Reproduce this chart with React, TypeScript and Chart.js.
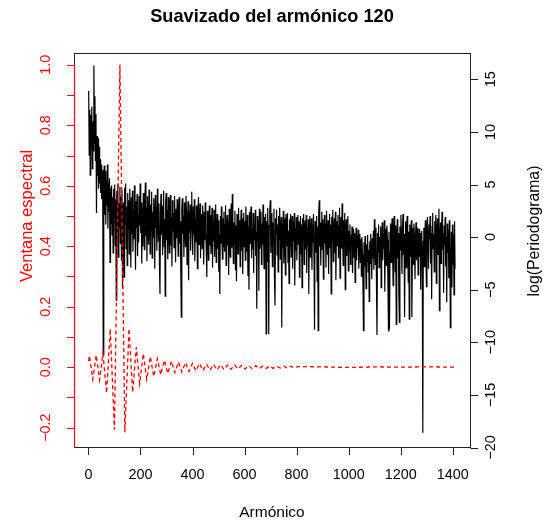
import React, { useEffect, useRef } from "react";
import { Chart, registerables } from "chart.js";

Chart.register(...registerables);

const TITLE = "Suavizado del armónico 120";
const X_LABEL = "Armónico";
const LEFT_LABEL = "Ventana espectral";
const RIGHT_LABEL = "log(Periodograma)";

const X_TICKS = [0, 200, 400, 600, 800, 1000, 1200, 1400];
const LEFT_TICKS = [-0.2, -0.1, 0, 0.1, 0.2, 0.3, 0.4, 0.5, 0.6, 0.7, 0.8, 0.9, 1.0];
const LEFT_TICK_LABELS = ["−0.2", "", "0.0", "", "0.2", "", "0.4", "", "0.6", "", "0.8", "", "1.0"];
const RIGHT_TICKS = [-20, -15, -10, -5, 0, 5, 10, 15];
const RIGHT_TICK_LABELS = ["−20", "−15", "−10", "−5", "0", "5", "10", "15"];

// harmonics of the log-periodogram: first harmonic and spacing
const HARMONIC_START = 1;
const HARMONIC_STEP = 2;

const LOG_PERIODOGRAM = [
  13.9, 7.8, 12.1, 5.9, 11.6, 8.4, 12.4, 6.5, 11.0, 8.2, 16.3, 8.9, 13.4, 7.3, 11.7, 2.3, 9.6, 5.8, 9.4, 4.6,
  8.6, 5.1, 7.4, 4.2, 6.9, 3.6, 6.4, 4.4, -11.2, 5.8, 6.8, 2.1, 6.3, 1.2, 5.4, 3.0, 6.9, 0.8, 5.1, 2.4,
  5.6, -2.4, 4.7, 1.3, 4.9, 0.2, 3.8, -1.5, 4.6, 1.9, 5.0, -0.8, 3.6, -6.0, 4.4, 0.5, 5.1, -1.9, 3.2, 1.0,
  4.8, -0.6, 3.9, -2.2, 4.5, -4.9, 3.3, 0.4, -3.8, 4.7, 1.2, 5.1, -1.1, 2.9, -2.7, 4.2, 0.8, 3.5, -1.6, 4.6,
  1.9, -2.9, 3.8, 0.3, 4.4, -1.4, 2.6, -0.2, 4.9, 1.5, -3.1, 3.4, 0.9, 4.1, -1.8, 2.2, -0.5, 3.9, 1.1, 5.1,
  0.4, 3.3, -2.5, 2.7, -0.9, 4.2, 1.6, -1.2, 3.6, 5.2, 0.1, 2.8, -2.3, 3.9, 1.3, -0.7, 4.5, 2.0, -1.6, 3.1,
  0.6, 4.3, -2.0, 2.4, 0.0, 3.7, 1.8, -3.0, 4.0, 0.9, 2.9, -1.3, 4.6, 1.4, -0.4, 3.2, -2.6, -5.4, 2.5, 4.1,
  0.2, 3.0, -1.7, 2.1, 4.4, -0.9, 1.7, -5.6, 3.4, 4.2, -0.3, 2.6, -2.1, 3.8, 0.7, -1.5, 2.9, 4.0, -0.8, 1.9,
  -2.8, 3.5, 0.5, 2.3, -1.0, 3.9, 1.2, -2.4, 2.7, -0.1, 3.6, 0.9, -1.8, 2.4, 3.8, -0.6, 1.5, -3.2, -7.6, 2.8,
  3.7, 0.3, 2.0, -1.9, 3.3, 1.0, -0.9, 3.9, 2.2, -2.6, 1.6, 3.4, -4.1, 2.5, 0.4, 3.1, -1.3, 2.0, 4.3, 0.8,
  -1.7, 2.9, 0.2, 3.6, -2.3, 1.8, -0.5, 3.0, 1.1, -3.0, 2.6, 3.8, -0.7, 1.4, 3.2, -2.0, 2.2, 0.5, -1.1, 3.0,
  1.2, -2.6, 2.4, -0.3, 3.3, 0.6, -1.5, -3.8, 2.5, 0.9, -2.2, 1.7, 3.0, -0.8, 2.1, -1.6, 0.4, 2.8, -2.9, 1.5,
  -0.4, 2.6, -1.9, 1.0, 3.1, -2.4, 0.7, 2.2, -1.1, 1.6, -3.3, 0.3, -5.4, 2.0, -0.6, 2.9, 0.1, -2.1, 1.8, -0.9,
  2.4, -1.4, 1.2, 3.0, -2.7, 0.5, 2.1, -0.8, 1.5, -3.6, 2.7, 0.0, -1.9, 1.9, 3.2, -1.0, 4.1, 0.6, -2.5, 1.4,
  -0.5, 2.5, -3.1, 1.1, -4.2, 2.2, 0.3, -1.6, 2.8, -0.2, 1.6, -2.8, 0.9, 2.6, -1.3, 1.8, -3.5, 0.4, 2.3, -0.9,
  1.5, -2.2, 2.9, 0.2, -1.4, 2.1, -3.7, 1.0, -5.0, 2.4, -0.6, 1.7, 2.9, -2.0, 0.8, -1.2, 2.3, -3.4, 1.3, -0.3,
  2.6, -1.8, 0.5, -6.8, 2.0, -0.4, 1.6, -5.1, 2.7, -1.1, 0.9, 2.4, -2.6, 1.3, -0.7, 3.1, 0.1, -3.0, 1.9, -1.4,
  2.2, -9.2, 1.5, -2.3, 2.8, 0.2, -9.2, 1.1, 2.5, 3.5, -1.5, 0.6, 2.3, -2.8, 1.4, -0.5, 2.7, -3.9, -6.5, 1.8,
  0.3, 2.6, -1.7, 1.2, -3.3, 2.0, -0.2, 2.8, -2.1, 0.7, 1.9, -8.6, 1.3, -1.0, 2.5, -2.5, 0.4, 1.8, -3.6, 2.2,
  -0.8, 1.1, 2.3, -2.4, 0.6, -4.4, 1.7, -0.9, 2.2, -1.9, 0.9, 2.0, -3.0, 1.4, -0.4, 2.3, -4.6, 0.8, -1.3, 1.9,
  -2.2, 1.0, 2.1, -0.7, 1.5, -3.8, 0.5, 2.0, -1.6, 1.2, -4.8, 1.8, -0.3, 2.2, -2.6, 0.7, 1.6, -1.2, 2.1, -3.4,
  0.9, -0.8, 1.7, -5.4, 1.1, 2.0, -1.9, 0.4, 1.8, -3.1, 1.2, -0.5, 2.2, -2.2, -8.8, 1.5, 0.2, -1.4, 2.0, -4.2,
  1.0, -8.9, 2.3, 3.5, -0.9, 1.4, -2.7, 0.8, 2.4, -1.2, 1.7, -4.0, 0.3, 2.1, -0.6, 1.3, -2.9, 2.5, 0.1, -1.7,
  1.6, -3.5, 0.9, 2.2, -1.0, 1.2, -5.4, 1.9, -0.4, 2.6, -2.3, 0.6, 1.8, -1.5, 2.4, -4.1, 0.4, 1.5, -0.8, 2.1,
  -2.0, 1.1, 2.8, -3.9, 0.7, 1.9, -1.1, 3.2, 0.0, -2.7, 1.6, -0.7, 2.3, -5.0, 0.9, 1.7, -1.8, 0.5, 2.0, -3.2,
  0.6, -1.3, 1.2, -2.6, 0.2, -0.9, 1.0, -3.4, -0.3, 0.8, -1.9, 0.4, -4.3, -0.6, 0.9, -2.2, 0.1, -1.0, 0.7, -3.0,
  -0.8, 0.3, -2.4, -0.2, -3.7, 0.0, -1.6, -4.4, -8.9, -0.5, -2.8, 0.1, -1.9, -4.9, -0.7, -2.3, 0.2, -3.3, -1.2, -6.1,
  -0.4, -2.5, 0.3, -1.6, -4.0, -0.1, -2.0, 0.6, -3.1, 1.7, -0.8, -2.6, 0.9, -4.6, -9.3, 0.4, -1.4, 1.2, -2.9, 0.0,
  -1.9, 1.0, -4.8, -0.5, 1.4, -2.2, 0.3, -1.1, 1.6, -5.2, -0.7, 0.8, -2.7, 1.1, -0.3, -4.1, -8.9, 0.5, -8.7, -1.5,
  1.3, -2.4, 0.2, 1.8, -1.3, -4.6, 0.6, 2.0, -0.9, -3.3, 1.1, -8.3, -0.2, 1.7, -2.0, 0.4, -5.5, -8.1, 1.0, -1.2,
  2.1, -0.6, -3.5, 0.9, 2.2, -1.7, 0.3, -7.6, -0.4, 1.5, -2.9, 0.7, 2.0, -1.0, -4.3, 0.5, -7.8, 1.2, -1.8, 0.0,
  1.6, -7.6, -0.8, 0.9, -2.6, 1.3, -0.4, -4.0, 0.2, 1.4, -2.2, -0.5, 0.9, -3.6, -0.2, 0.8, -1.9, 0.4, -5.0, -0.9,
  0.6, -2.3, -18.6, -0.4, 0.9, -2.8, 0.2, 1.6, -1.4, -4.7, 0.7, 1.9, -0.9, -3.0, 1.2, -0.2, 2.0, -2.5, 0.4, -5.9,
  1.0, 2.3, -1.1, 0.3, -3.3, 1.5, -0.6, 2.1, -4.4, 0.1, 1.8, -1.7, 0.8, 2.7, -7.0, -0.3, 1.4, -2.5, 0.6, 2.4,
  -1.2, 0.4, -5.3, 1.1, -0.8, 1.9, -2.8, 0.0, -6.2, 1.3, -1.5, 0.7, -3.9, 1.6, -0.9, -8.6, -2.1, 0.5, -4.8, 1.2,
  -2.6, 0.3, -5.5, 1.5, -3.0,
];

const WINDOW_HARMONICS = [
  1, 4, 17, 30, 43, 56, 70, 84, 100, 121, 140, 156, 170, 184, 197, 211, 224, 238, 251, 265,
  278, 292, 305, 319, 332, 346, 359, 373, 386, 400, 413, 427, 440, 454, 467, 481, 494, 508, 521, 535,
  548, 562, 575, 589, 602, 616, 629, 643, 656, 670, 683, 697, 710, 724, 737, 751, 764, 778, 791, 805,
  900, 1000, 1100, 1200, 1300, 1410,
];
const WINDOW_VALUES = [
  0.02, 0.038, -0.04, 0.04, -0.042, 0.045, -0.086, 0.127, -0.207, 1.0, -0.215, 0.127, -0.083, 0.066, -0.054, 0.045, -0.04, 0.035, -0.031, 0.028,
  -0.025, 0.023, -0.021, 0.02, -0.018, 0.017, -0.016, 0.015, -0.014, 0.013, -0.012, 0.012, -0.011, 0.01, -0.01, 0.009, -0.009, 0.008, -0.008, 0.007,
  -0.007, 0.007, -0.006, 0.006, -0.006, 0.005, -0.005, 0.005, -0.005, 0.004, -0.004, 0.004, -0.004, 0.003, -0.003, 0.003, -0.003, 0.003, -0.002, 0.002,
  0.001, -0.001, 0.001, 0, 0.001, 0,
];

const X_RANGE = [-55.4, 1466.4];
const LEFT_RANGE = [-0.264, 1.039];
const RIGHT_RANGE = [-19.95, 17.5];

const FONT = '"Liberation Sans", Arial, Helvetica, sans-serif';

const axesPlugin = {
  id: "rAxes",
  afterDraw(chart: any) {
    const ctx = chart.ctx as CanvasRenderingContext2D;
    const { left, right, top, bottom } = chart.chartArea;
    const xs = chart.scales.x;
    const yl = chart.scales.yL;
    const yr = chart.scales.yR;
    const tick = 7.5;
    ctx.save();
    // box
    ctx.strokeStyle = "#222";
    ctx.lineWidth = 1;
    ctx.strokeRect(Math.round(left) + 0.5, Math.round(top) + 0.5, Math.round(right - left), Math.round(bottom - top));

    // left axis (red)
    ctx.strokeStyle = "#FF0000";
    ctx.lineWidth = 1.2;
    ctx.beginPath();
    const lx = Math.round(left) + 0.5;
    ctx.moveTo(lx, yl.getPixelForValue(LEFT_TICKS[LEFT_TICKS.length - 1]));
    ctx.lineTo(lx, Math.round(bottom) + 0.5);
    LEFT_TICKS.forEach((v) => {
      const y = Math.round(yl.getPixelForValue(v)) + 0.5;
      ctx.moveTo(lx, y);
      ctx.lineTo(lx - tick, y);
    });
    ctx.stroke();
    ctx.lineWidth = 1;
    ctx.fillStyle = "#FF0000";
    ctx.font = `14.4px ${FONT}`;
    ctx.textAlign = "center";
    ctx.textBaseline = "middle";
    LEFT_TICKS.forEach((v, i) => {
      const lab = LEFT_TICK_LABELS[i];
      if (!lab) return;
      ctx.save();
      ctx.translate(46.5, yl.getPixelForValue(v));
      ctx.rotate(-Math.PI / 2);
      ctx.fillText(lab, 0, 0);
      ctx.restore();
    });
    ctx.font = `16.5px ${FONT}`;
    ctx.save();
    ctx.translate(27, 216);
    ctx.rotate(-Math.PI / 2);
    ctx.fillText(LEFT_LABEL, 0, 0);
    ctx.restore();

    // right axis
    ctx.strokeStyle = "#222";
    ctx.beginPath();
    const rx = Math.round(right) + 0.5;
    RIGHT_TICKS.forEach((v) => {
      const y = Math.round(yr.getPixelForValue(v)) + 0.5;
      ctx.moveTo(rx, y);
      ctx.lineTo(rx + tick, y);
    });
    ctx.stroke();
    ctx.fillStyle = "#000";
    ctx.font = `14.4px ${FONT}`;
    RIGHT_TICKS.forEach((v, i) => {
      ctx.save();
      ctx.translate(491.5, yr.getPixelForValue(v));
      ctx.rotate(-Math.PI / 2);
      ctx.fillText(RIGHT_TICK_LABELS[i], 0, 0);
      ctx.restore();
    });
    ctx.font = `15.8px ${FONT}`;
    ctx.save();
    ctx.translate(535, 231);
    ctx.rotate(-Math.PI / 2);
    ctx.fillText(RIGHT_LABEL, 0, 0);
    ctx.restore();

    // bottom axis
    ctx.beginPath();
    const by = Math.round(bottom) + 0.5;
    X_TICKS.forEach((v) => {
      const x = Math.round(xs.getPixelForValue(v)) + 0.5;
      ctx.moveTo(x, by);
      ctx.lineTo(x, by + tick);
    });
    ctx.stroke();
    ctx.font = `14.4px ${FONT}`;
    X_TICKS.forEach((v) => {
      ctx.fillText(String(v), xs.getPixelForValue(v), 475);
    });
    ctx.font = `15.5px ${FONT}`;
    ctx.fillText(X_LABEL, (left + right) / 2, 513);

    // title
    ctx.font = `bold 18.2px ${FONT}`;
    ctx.textBaseline = "alphabetic";
    ctx.fillText(TITLE, (left + right) / 2, 22);
    ctx.restore();
  },
};

export default function App() {
  const ref = useRef<HTMLCanvasElement | null>(null);
  useEffect(() => {
    if (!ref.current) return;
    const logData = LOG_PERIODOGRAM.map((v, i) => ({ x: HARMONIC_START + i * HARMONIC_STEP, y: v }));
    const winData = WINDOW_HARMONICS.map((h, i) => ({ x: h, y: WINDOW_VALUES[i] }));
    const chart = new Chart(ref.current, {
      type: "line",
      data: {
        datasets: [
          {
            data: winData,
            yAxisID: "yL",
            borderColor: "#FF0000",
            borderWidth: 1.3,
            borderDash: [4, 3],
            pointRadius: 0,
            tension: 0,
            fill: false,
          },
          {
            data: logData,
            yAxisID: "yR",
            borderColor: "#000000",
            borderWidth: 1.2,
            pointRadius: 0,
            tension: 0,
            fill: false,
          },
        ],
      },
      options: {
        responsive: false,
        animation: false,
        events: [],
        layout: { padding: { left: 74, top: 53, right: 81, bottom: 78 } },
        plugins: { legend: { display: false }, tooltip: { enabled: false }, title: { display: false } },
        scales: {
          x: { type: "linear", min: X_RANGE[0], max: X_RANGE[1], display: false },
          yL: { type: "linear", position: "left", min: LEFT_RANGE[0], max: LEFT_RANGE[1], display: false },
          yR: { type: "linear", position: "right", min: RIGHT_RANGE[0], max: RIGHT_RANGE[1], display: false },
        },
      },
      plugins: [axesPlugin],
    });
    return () => chart.destroy();
  }, []);
  return (
    <div style={{ position: "absolute", left: 0, top: 0, width: 551, height: 525, background: "#fff" }}>
      <canvas ref={ref} width={551} height={525} />
    </div>
  );
}
